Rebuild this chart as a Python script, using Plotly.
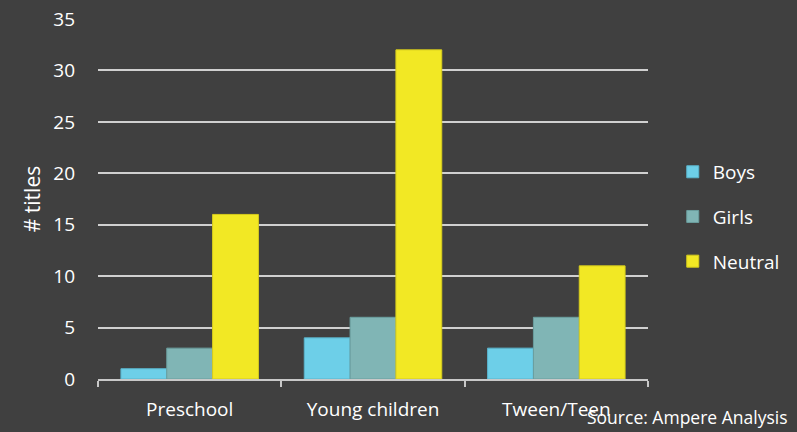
import plotly.graph_objects as go

categories = ["Preschool", "Young children", "Tween/Teen"]
boys = [1, 4, 3]
girls = [3, 6, 6]
neutral = [16, 32, 11]

series = [
    ("Boys", boys, "#6dcfe8", "#5ab4cc"),
    ("Girls", girls, "#80b5b5", "#6a9e9e"),
    ("Neutral", neutral, "#f2e824", "#d6cc1c"),
]

bg = "#404040"
font_family = "'Open Sans', sans-serif"

fig = go.Figure()
for i, (name, vals, fill, edge) in enumerate(series):
    fig.add_trace(go.Bar(
        x=categories, y=vals, name=name,
        marker=dict(color=fill, line=dict(color=edge, width=1)),
        legendgroup=f"g{i}",
    ))

fig.update_layout(
    width=797, height=432,
    paper_bgcolor=bg, plot_bgcolor=bg,
    margin=dict(l=98, r=149, t=19, b=53, autoexpand=False),
    barmode="group", bargap=0.25, bargroupgap=0,
    font=dict(family=font_family, color="#ffffff", size=19),
    showlegend=True,
    legend=dict(
        x=1.045, xanchor="left", y=0.628, yanchor="top",
        font=dict(size=19, color="#ffffff"),
        traceorder="grouped", tracegroupgap=17,
        bgcolor="rgba(0,0,0,0)", itemwidth=30,
    ),
    xaxis=dict(
        showgrid=False, showline=True, linecolor="#c8c8c8", linewidth=2,
        ticks="outside", tickson="boundaries", ticklen=6, tickwidth=1.5,
        tickcolor="#c8c8c8", tickfont=dict(size=19, color="#ffffff"),
        ticklabelstandoff=12,
    ),
    yaxis=dict(
        range=[0, 35], dtick=5, showgrid=True, gridcolor="#d0d0d0",
        gridwidth=2, zeroline=False, showline=False,
        tickfont=dict(size=19, color="#ffffff"), ticklabelstandoff=22,
        title=dict(text="# titles", font=dict(size=21, color="#ffffff"),
                   standoff=6),
    ),
)

# source note in the bottom-right corner of the page
fig.add_annotation(
    text="Source: Ampere Analysis", xref="paper", yref="paper",
    x=(790 - 98) / 550, y=-(417 - 379) / 360,
    xanchor="right", yanchor="middle", showarrow=False,
    font=dict(size=17.5, color="#ffffff", family=font_family),
)

fig.write_html("out.html")
